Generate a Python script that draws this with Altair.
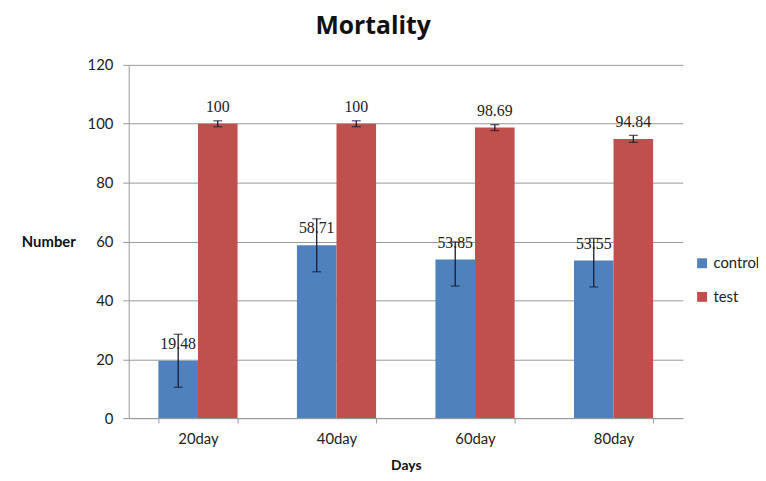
import altair as alt
import pandas as pd

days = ["20day", "40day", "60day", "80day"]
groups = ["control", "test"]
control_vals = [19.48, 58.71, 53.85, 53.55]
test_vals = [100, 100, 98.69, 94.84]
control_labels = ["19.48", "58.71", "53.85", "53.55"]
test_labels = ["100", "100", "98.69", "94.84"]
control_err_up = [9, 9, 6, 7.5]
control_err_lo = [9, 9, 9, 9]
test_err_up = [1, 1, 1, 1.2]
test_err_lo = [1, 1, 1, 1.2]

rows = []
for i, d in enumerate(days):
    rows.append(dict(day=d, group="control", value=control_vals[i], label=control_labels[i],
                     hi=control_vals[i] + control_err_up[i], lo=control_vals[i] - control_err_lo[i]))
    rows.append(dict(day=d, group="test", value=test_vals[i], label=test_labels[i],
                     hi=test_vals[i] + test_err_up[i], lo=test_vals[i] - test_err_lo[i]))
df = pd.DataFrame(rows)

colors = ["#4F81BD", "#C0504D"]

x = alt.X("day:N", sort=days,
          scale=alt.Scale(paddingInner=0.4286, paddingOuter=0.2143),
          axis=alt.Axis(title="Days", labelAngle=0, labelFont="Lato", labelFontSize=15,
                        labelColor="#222", labelPadding=9, tickBand="extent",
                        ticks=True, tickSize=5, tickColor="#999", domainColor="#999",
                        titleFont="Lato", titleFontSize=14, titleFontWeight="bold",
                        titlePadding=12, titleColor="#111"))
xo = alt.XOffset("group:N", sort=groups)

base = alt.Chart(df)

bars = base.mark_bar().encode(
    x=x, xOffset=xo,
    y=alt.Y("value:Q", scale=alt.Scale(domain=[0, 120]),
            axis=alt.Axis(values=[0, 20, 40, 60, 80, 100, 120], title="Number",
                          titleAngle=0, titleAlign="right", titleBaseline="middle",
                          titleX=-54, titleY=179, titleFont="Lato", titleFontSize=15,
                          titleFontWeight="bold", titleColor="#111",
                          labelFont="Lato", labelFontSize=15, labelColor="#222",
                          labelPadding=10, tickSize=6, tickColor="#999",
                          domainColor="#999", gridColor="#999", grid=True)),
    color=alt.Color("group:N", sort=groups,
                    scale=alt.Scale(domain=groups, range=colors),
                    legend=alt.Legend(title=None, orient="none", legendX=572, legendY=193,
                                      symbolType="square", symbolSize=100,
                                      symbolStrokeWidth=0, labelFont="Lato",
                                      labelFontSize=15, labelColor="#222",
                                      rowPadding=18, labelOffset=4)),
)

err = base.mark_rule(color="#1a1a2e", strokeWidth=1.3).encode(
    x=alt.X("day:N", sort=days), xOffset=xo, y="lo:Q", y2="hi:Q")
cap_hi = base.mark_tick(color="#1a1a2e", thickness=1.3, size=9, orient="horizontal").encode(
    x=alt.X("day:N", sort=days), xOffset=xo, y="hi:Q")
cap_lo = base.mark_tick(color="#1a1a2e", thickness=1.3, size=9, orient="horizontal").encode(
    x=alt.X("day:N", sort=days), xOffset=xo, y="lo:Q")

text = base.mark_text(font="Liberation Serif", fontSize=16, color="#222",
                      baseline="middle", dy=-17).encode(
    x=alt.X("day:N", sort=days), xOffset=xo, y="value:Q", text="label:N")

chart = alt.layer(bars, err, cap_hi, cap_lo, text).properties(
    width=560, height=357,
    autosize=alt.AutoSizeParams(type="none"),
    padding={"left": 122, "top": 55, "right": 76, "bottom": 53},
    title=alt.TitleParams("Mortality", font="Open Sans", fontSize=25, fontWeight="bold",
                          color="#111", anchor="middle", dx=-33, offset=19),
).configure_view(stroke=None).configure_axisX(grid=False)

chart.save("out.html", embed_options={"renderer": "svg", "actions": False})
